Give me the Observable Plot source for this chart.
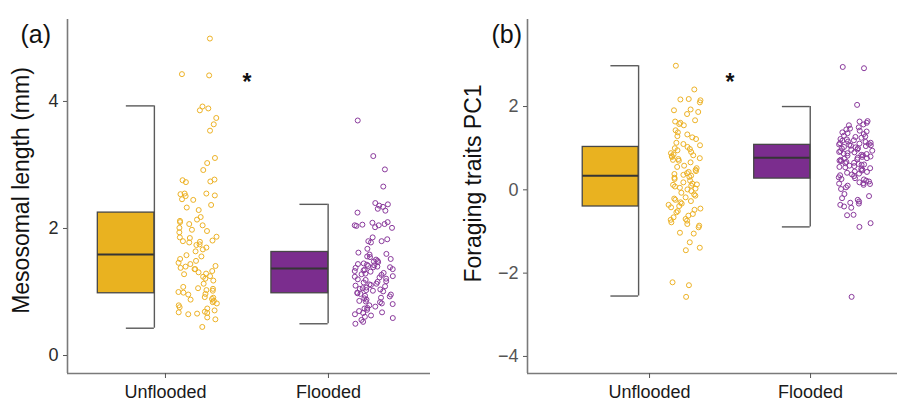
<!DOCTYPE html>
<html><head><meta charset="utf-8">
<script src="https://cdn.jsdelivr.net/npm/d3@7"></script>
<script src="https://cdn.jsdelivr.net/npm/@observablehq/plot@0.6"></script>
<style>
body{margin:0;background:#fff;}
#wrap{display:flex;width:899px;height:404px;}
#wrap svg{font-family:"Liberation Sans",Arial,Helvetica,sans-serif;overflow:visible;}
</style></head><body><div id="wrap"></div>
<script>
// ---------- data ----------
const categories = ["Unflooded", "Flooded"];
const panelLabels = ["(a)", "(b)"];
const yTitles = ["Mesosomal length (mm)", "Foraging traits PC1"];
const yTicksA = [0, 2, 4];
const yTicksB = [-4, -2, 0, 2];
const significance = "*";
const starYA = 4.39;
const starYB = 2.72;

// box statistics per category [Unflooded, Flooded]
const lowA = [0.43, 0.50];
const q1A = [0.98, 0.98];
const medA = [1.59, 1.37];
const q3A = [2.25, 1.63];
const highA = [3.93, 2.38];

const lowB = [-2.55, -0.89];
const q1B = [-0.40, 0.27];
const medB = [0.34, 0.77];
const q3B = [1.03, 1.08];
const highB = [2.98, 2.00];

// individual observations
const unfloodedA = [4.99, 4.43, 4.41, 3.92, 3.89, 3.86, 3.74, 3.64, 3.54, 3.11, 3.03, 2.92, 2.73, 2.77, 2.76, 2.74,
  2.55, 2.54, 2.52, 2.51, 2.55, 2.46, 2.45, 2.37, 2.33, 2.29, 2.18, 2.14, 2.12, 2.10, 2.07, 2.05, 2.01, 1.98, 1.96,
  1.94, 1.87, 1.86, 1.85, 1.81, 1.80, 1.79, 1.78, 1.75, 1.74, 1.70, 1.67, 1.64, 1.58, 1.56, 1.52, 1.49, 1.46, 1.44,
  1.41, 1.40, 1.38, 1.36, 1.36, 1.33, 1.31, 1.29, 1.28, 1.25, 1.24, 1.21, 1.18, 1.13, 1.08, 1.06, 1.05, 1.03, 1.02,
  1.00, 0.99, 0.97, 0.96, 0.92, 0.91, 0.89, 0.88, 0.86, 0.84, 0.82, 0.79, 0.76, 0.74, 0.71, 0.69, 0.68, 0.67, 0.66,
  0.65, 0.60, 0.57, 0.45];
const floodedA = [3.70, 3.14, 2.93, 2.66, 2.40, 2.38, 2.36, 2.34, 2.31, 2.28, 2.25, 2.10, 2.09, 2.07, 2.06, 2.05,
  2.05, 2.04, 2.02, 2.01, 1.86, 1.83, 1.80, 1.80, 1.78, 1.68, 1.62, 1.60, 1.59, 1.56, 1.55, 1.52, 1.51, 1.49, 1.48,
  1.47, 1.45, 1.44, 1.43, 1.42, 1.41, 1.40, 1.39, 1.39, 1.38, 1.36, 1.35, 1.34, 1.33, 1.32, 1.30, 1.29, 1.28, 1.27,
  1.25, 1.24, 1.23, 1.21, 1.20, 1.19, 1.17, 1.16, 1.15, 1.13, 1.12, 1.11, 1.10, 1.09, 1.07, 1.06, 1.05, 1.04, 1.03,
  1.02, 1.01, 0.99, 0.98, 0.97, 0.96, 0.94, 0.93, 0.91, 0.90, 0.88, 0.86, 0.85, 0.84, 0.82, 0.81, 0.79, 0.77, 0.75,
  0.74, 0.72, 0.70, 0.68, 0.67, 0.65, 0.63, 0.61, 0.59, 0.56, 0.53, 0.50];
const unfloodedB = [2.98, 2.41, 2.18, 2.17, 2.15, 2.10, 1.93, 1.91, 1.87, 1.82, 1.67, 1.64, 1.61, 1.58, 1.55, 1.43,
  1.38, 1.33, 1.29, 1.26, 1.22, 1.13, 1.10, 1.07, 1.03, 1.00, 0.98, 0.95, 0.91, 0.88, 0.85, 0.83, 0.81, 0.79, 0.76,
  0.74, 0.72, 0.70, 0.66, 0.58, 0.55, 0.52, 0.48, 0.45, 0.43, 0.40, 0.38, 0.36, 0.34, 0.31, 0.29, 0.26, 0.22, 0.18,
  0.15, 0.13, 0.12, 0.10, 0.08, 0.05, 0.03, 0.01, -0.03, -0.07, -0.11, -0.14, -0.18, -0.21, -0.24, -0.27, -0.30,
  -0.33, -0.36, -0.39, -0.42, -0.45, -0.48, -0.51, -0.54, -0.58, -0.62, -0.66, -0.70, -0.72, -0.74, -0.78, -0.82,
  -0.86, -0.90, -1.03, -1.05, -1.26, -1.39, -1.45, -2.22, -2.29, -2.57];
const floodedB = [2.95, 2.92, 2.04, 1.65, 1.64, 1.61, 1.57, 1.55, 1.50, 1.47, 1.45, 1.42, 1.40, 1.38, 1.36, 1.34,
  1.30, 1.28, 1.27, 1.25, 1.22, 1.21, 1.19, 1.18, 1.16, 1.15, 1.13, 1.12, 1.11, 1.10, 1.09, 1.08, 1.07, 1.06, 1.05,
  1.03, 1.02, 1.00, 0.99, 0.97, 0.96, 0.94, 0.93, 0.91, 0.90, 0.88, 0.87, 0.86, 0.84, 0.83, 0.82, 0.80, 0.79, 0.77,
  0.76, 0.75, 0.73, 0.72, 0.70, 0.69, 0.67, 0.65, 0.64, 0.62, 0.61, 0.60, 0.58, 0.57, 0.55, 0.54, 0.52, 0.50, 0.48,
  0.46, 0.44, 0.43, 0.41, 0.39, 0.37, 0.35, 0.33, 0.30, 0.28, 0.26, 0.25, 0.22, 0.20, 0.18, 0.16, 0.15, 0.14, 0.12,
  0.10, 0.06, 0.02, -0.10, -0.15, -0.20, -0.24, -0.28, -0.31, -0.33, -0.36, -0.40, -0.43, -0.60, -0.61, -0.80,
  -0.89, -2.57];

// ---------- styling / layout ----------
const boxFill = ["#E9B220", "#7B2D8E"];
const dotStroke = ["#EDB226", "#8A3A9C"];
const boxOff = [{l: -0.415, r: -0.068, c: -0.240}, {l: -0.350, r: -0.002, c: -0.175}];
const fmt = d => (d < 0 ? "\u2212" : "") + Math.abs(d);

function hash(i, s) {
  const v = Math.sin(i * 127.1 + s * 311.7) * 43758.5453;
  return v - Math.floor(v);
}

function panel(cfg) {
  const boxes = categories.map((cat, i) => ({
    cat, i,
    x1: i + 1 + boxOff[i].l, x2: i + 1 + boxOff[i].r, xc: i + 1 + boxOff[i].c,
    lo: cfg.low[i], q1: cfg.q1[i], med: cfg.med[i], q3: cfg.q3[i], hi: cfg.high[i]
  }));
  const marks = [];
  marks.push(Plot.ruleX([cfg.xDomain[0]], {stroke: "#7a7a7a", strokeWidth: 1.6}));
  marks.push(Plot.ruleY([cfg.yDomain[0]], {stroke: "#7a7a7a", strokeWidth: 1.6}));
  boxes.forEach((b, i) => {
    const d = [b];
    marks.push(Plot.ruleX(d, {x: "x2", y1: "lo", y2: "hi", stroke: "#5a5a5a", strokeWidth: 1.4}));
    marks.push(Plot.ruleY(d, {y: "hi", x1: "xc", x2: "x2", stroke: "#5a5a5a", strokeWidth: 1.4}));
    marks.push(Plot.ruleY(d, {y: "lo", x1: "xc", x2: "x2", stroke: "#5a5a5a", strokeWidth: 1.4}));
    marks.push(Plot.rect(d, {x1: "x1", x2: "x2", y1: "q1", y2: "q3", fill: boxFill[i], stroke: "#474747", strokeWidth: 1.3}));
    marks.push(Plot.ruleY(d, {y: "med", x1: "x1", x2: "x2", stroke: "#353535", strokeWidth: 2}));
    const vals = cfg.points[i];
    const jc = cfg.jitter[i];
    const pts = vals.map((v, k) => ({x: i + 1 + jc.c + jc.hw * (2 * hash(k, i + cfg.seed) - 1), y: v}));
    marks.push(Plot.dot(pts, {x: "x", y: "y", r: 2.5, stroke: dotStroke[i], fill: "none", strokeWidth: 1}));
  });
  marks.push(Plot.axisY(cfg.yTicks, {tickFormat: fmt, tickSize: 4, tickPadding: 5, fontSize: 18, fill: cfg.tickText, stroke: "#555", label: null}));
  marks.push(Plot.axisX([1, 2], {tickFormat: d => categories[d - 1], tickSize: 5, tickPadding: 7, fontSize: 18, fill: "#1a1a1a", stroke: "#555", label: null}));
  marks.push(Plot.text([significance], {x: [1.5], y: [cfg.starY], text: d => d, fontSize: 23, fontWeight: "bold", fill: "#111", dy: 6}));
  marks.push(Plot.text([cfg.title], {frameAnchor: "left", text: d => d, textAnchor: "middle", rotate: -90, dx: cfg.titleDx, dy: cfg.titleDy, fontSize: 23, fill: "#111"}));
  marks.push(Plot.text([cfg.label], {frameAnchor: "top-left", text: d => d, textAnchor: "start", dx: cfg.labelDx, dy: 6, fontSize: 25, fill: "#111"}));
  return Plot.plot({
    width: cfg.width, height: 404,
    marginLeft: cfg.ml, marginRight: cfg.mr, marginTop: 19, marginBottom: 31,
    x: {domain: cfg.xDomain},
    y: {domain: cfg.yDomain},
    style: {background: "white", fontFamily: "'Liberation Sans', Arial, Helvetica, sans-serif"},
    marks
  });
}

const wrap = document.getElementById("wrap");
wrap.append(panel({
  width: 449, ml: 67, mr: 19, xDomain: [0.399, 2.626], yDomain: [-0.283, 5.29],
  low: lowA, q1: q1A, med: medA, q3: q3A, high: highA,
  points: [unfloodedA, floodedA], jitter: [{c: 0.196, hw: 0.12}, {c: 0.279, hw: 0.12}], seed: 1,
  yTicks: yTicksA, tickText: "#2a2a2a", starY: starYA,
  title: yTitles[0], titleDx: -46, titleDy: -6, label: panelLabels[0], labelDx: -47
}));
wrap.append(panel({
  width: 450, ml: 78, mr: 2, xDomain: [0.242, 2.54], yDomain: [-4.41, 4.09],
  low: lowB, q1: q1B, med: medB, q3: q3B, high: highB,
  points: [unfloodedB, floodedB], jitter: [{c: 0.217, hw: 0.10}, {c: 0.28, hw: 0.105}], seed: 7,
  yTicks: yTicksB, tickText: "#555", starY: starYB,
  title: yTitles[1], titleDx: -54, titleDy: -13, label: panelLabels[1], labelDx: -36
}));
</script></body></html>
